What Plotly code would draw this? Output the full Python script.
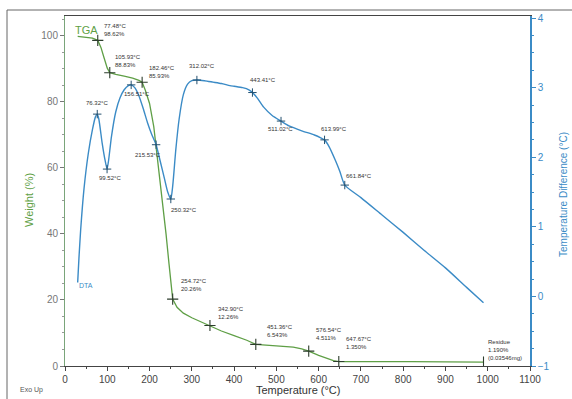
import plotly.graph_objects as go

# TGA curve (Temperature °C, Weight %)
tga_T = [30, 50, 65, 77.48, 85, 92, 100, 105.93, 120, 140, 160, 175, 182.46, 190, 200, 210, 216, 225, 232, 239, 246, 251, 254.72,
         265, 280, 300, 320, 342.90, 370, 400, 430, 451.36, 480, 510, 540, 560, 576.54, 600, 620, 635, 647.67,
         700, 800, 820, 900, 960, 990]
tga_W = [99.8, 99.6, 99.3, 98.62, 96.5, 93.5, 90.2, 88.83, 88.3, 87.8, 87.2, 86.5, 85.93, 83.5, 79.5, 72.5, 66, 55.5, 47, 40, 31, 24.5, 20.26,
         17.8, 16.0, 14.6, 13.4, 12.26, 10.6, 9.2, 7.8, 6.543, 6.3, 6.1, 5.7, 5.2, 4.511, 3.2, 2.2, 1.6, 1.350,
         1.4, 1.45, 1.3, 1.25, 1.2, 1.19]

# DTA curve (Temperature °C, Temperature difference °C)
dta_T = [30, 33, 37, 45, 55, 65, 72, 76.32, 80, 88, 95, 99.52, 103, 110, 120, 130, 140, 150, 156.51,
         165, 175, 185, 195, 205, 215.53, 225, 235, 243, 250.32, 255, 262, 270, 280, 290, 300, 312.02,
         330, 350, 370, 390, 400, 420, 435, 443.41, 455, 470, 490, 511.02, 530, 560, 590, 605, 613.99,
         625, 640, 650, 661.84, 700, 750, 800, 850, 900, 950, 990]
dta_D = [0.2, 0.55, 0.95, 1.55, 2.05, 2.4, 2.58, 2.62, 2.55, 2.2, 1.95, 1.83, 1.95, 2.3, 2.65, 2.85, 2.97, 3.03, 3.04,
         3.0, 2.88, 2.7, 2.5, 2.33, 2.18, 1.95, 1.7, 1.5, 1.40, 1.6, 2.1, 2.55, 2.9, 3.05, 3.1, 3.11,
         3.1, 3.08, 3.06, 3.03, 3.02, 3.0, 2.97, 2.93, 2.85, 2.72, 2.6, 2.52, 2.45, 2.38, 2.32, 2.28, 2.25,
         2.15, 1.95, 1.8, 1.6, 1.42, 1.17, 0.92, 0.66, 0.41, 0.13, -0.09]

# Marked points
tga_mark_T = [77.48, 105.93, 182.46, 254.72, 342.90, 451.36, 576.54, 647.67]
tga_mark_W = [98.62, 88.83, 85.93, 20.26, 12.26, 6.543, 4.511, 1.350]
dta_mark_T = [76.32, 99.52, 156.51, 215.53, 250.32, 312.02, 443.41, 511.02, 613.99, 661.84]
dta_mark_D = [2.62, 1.83, 3.04, 2.18, 1.40, 3.11, 2.93, 2.52, 2.25, 1.60]
residue_T = [990]
residue_W = [1.19]

# Annotation labels (text, T, Weight-axis y)
labels = [
    ("77.48°C<br>98.62%", 88, 101.8),
    ("105.93°C<br>88.83%", 114, 92.4),
    ("182.46°C<br>85.93%", 194, 89.0),
    ("312.02°C", 289, 91.0),
    ("443.41°C", 434, 86.7),
    ("511.02°C", 476, 71.8),
    ("613.99°C", 600, 71.8),
    ("661.84°C", 659, 57.6),
    ("76.32°C", 45, 79.7),
    ("99.52°C", 76, 57.0),
    ("156.51°C", 135, 82.4),
    ("215.53°C", 161, 64.0),
    ("250.32°C", 247, 47.3),
    ("254.72°C<br>20.26%", 270, 24.5),
    ("342.90°C<br>12.26%", 358, 16.0),
    ("451.36°C<br>6.543%", 474, 10.6),
    ("576.54°C<br>4.511%", 588, 9.7),
    ("647.67°C<br>1.350%", 661, 7.0),
    ("Residue<br>1.190%<br>(0.03546mg)", 996, 4.8),
]

GREEN = "#5f9f46"
BLUE = "#3b8bc6"
FONT = "Liberation Sans, Arial, sans-serif"

fig = go.Figure()
fig.add_trace(go.Scatter(x=tga_T, y=tga_W, mode="lines", line=dict(color=GREEN, width=1.3),
                         yaxis="y", showlegend=False, hoverinfo="skip"))
fig.add_trace(go.Scatter(x=dta_T, y=dta_D, mode="lines", line=dict(color=BLUE, width=1.4, shape="spline", smoothing=0.6),
                         yaxis="y2", showlegend=False, hoverinfo="skip"))
fig.add_trace(go.Scatter(x=tga_mark_T, y=tga_mark_W, mode="markers",
                         marker=dict(symbol="cross-thin", size=8, line=dict(color="#2d3d2d", width=1.1)),
                         yaxis="y", showlegend=False, hoverinfo="skip"))
fig.add_trace(go.Scatter(x=residue_T, y=residue_W, mode="markers",
                         marker=dict(symbol="line-ns", size=8, line=dict(color="#2d3d2d", width=1.1)),
                         yaxis="y", showlegend=False, hoverinfo="skip"))
fig.add_trace(go.Scatter(x=dta_mark_T, y=dta_mark_D, mode="markers",
                         marker=dict(symbol="cross-thin", size=6, line=dict(color="#24506f", width=1.0)),
                         yaxis="y2", showlegend=False, hoverinfo="skip"))

annotations = []
for txt, tx, ty in labels:
    annotations.append(dict(x=tx, y=ty, xref="x", yref="y", text=txt, showarrow=False,
                            xanchor="left", yanchor="middle", align="left",
                            font=dict(size=6, color="#333", family=FONT)))
annotations += [
    dict(x=19, y=101.8, xref="x", yref="y", text="TGA", showarrow=False, xanchor="left", yanchor="middle",
         font=dict(size=11, color=GREEN, family=FONT)),
    dict(x=28, y=24.5, xref="x", yref="y", text="DTA", showarrow=False, xanchor="left", yanchor="middle",
         font=dict(size=7, color=BLUE, family=FONT)),
    dict(x=(298 - 65) / 465, y=(366 - 390) / 350, xref="paper", yref="paper", text="Temperature (°C)",
         showarrow=False, xanchor="center", yanchor="middle", font=dict(size=11, color="#333", family=FONT)),
    dict(x=(31 - 65) / 465, y=(366 - 390) / 350, xref="paper", yref="paper", text="Exo Up",
         showarrow=False, xanchor="center", yanchor="middle", font=dict(size=7, color="#555", family=FONT)),
    dict(x=(29 - 65) / 465, y=(366 - 200) / 350, xref="paper", yref="paper", text="Weight (%)",
         showarrow=False, textangle=-90, xanchor="center", yanchor="middle", font=dict(size=11, color=GREEN, family=FONT)),
    dict(x=(563 - 65) / 465, y=(366 - 195) / 350, xref="paper", yref="paper", text="Temperature Difference (°C)",
         showarrow=False, textangle=-90, xanchor="center", yanchor="middle", font=dict(size=10, color=BLUE, family=FONT)),
]

fig.update_layout(
    width=572, height=399,
    margin=dict(l=65, r=42, t=16, b=33),
    paper_bgcolor="white", plot_bgcolor="white",
    font=dict(family=FONT, size=10, color="#444"),
    xaxis=dict(range=[0, 1100], tickvals=list(range(0, 1101, 100)), showgrid=False, zeroline=False,
               showline=True, linecolor="#444", linewidth=1, mirror=True,
               ticks="outside", ticklen=4, tickcolor="#444",
               minor=dict(dtick=50, ticks="outside", ticklen=2, tickcolor="#444"),
               tickfont=dict(size=10, color="#444")),
    yaxis=dict(range=[0, 106], tickvals=[0, 20, 40, 60, 80, 100], showgrid=False, zeroline=False,
               showline=True, linecolor="#7aa57a", linewidth=1,
               ticks="outside", ticklen=4, tickcolor="#777",
               minor=dict(dtick=5, ticks="outside", ticklen=2, tickcolor="#999"),
               tickfont=dict(size=10, color="#777")),
    yaxis2=dict(range=[-1.0, 4.03], overlaying="y", side="right", tickvals=[-1, 0, 1, 2, 3, 4],
                showgrid=False, zeroline=False, showline=True, linecolor=BLUE, linewidth=1.5,
                ticks="outside", ticklen=4, tickcolor=BLUE,
                minor=dict(dtick=0.25, ticks="outside", ticklen=2, tickcolor=BLUE),
                tickfont=dict(size=10, color=BLUE)),
    annotations=annotations,
    shapes=[dict(type="rect", xref="paper", yref="paper",
                 x0=(7 - 65) / 465, x1=(585 - 65) / 465, y0=(366 - 410) / 350, y1=(366 - 10) / 350,
                 line=dict(color="#666", width=1), fillcolor="rgba(0,0,0,0)", layer="below")],
)

fig.write_html("out.html")
